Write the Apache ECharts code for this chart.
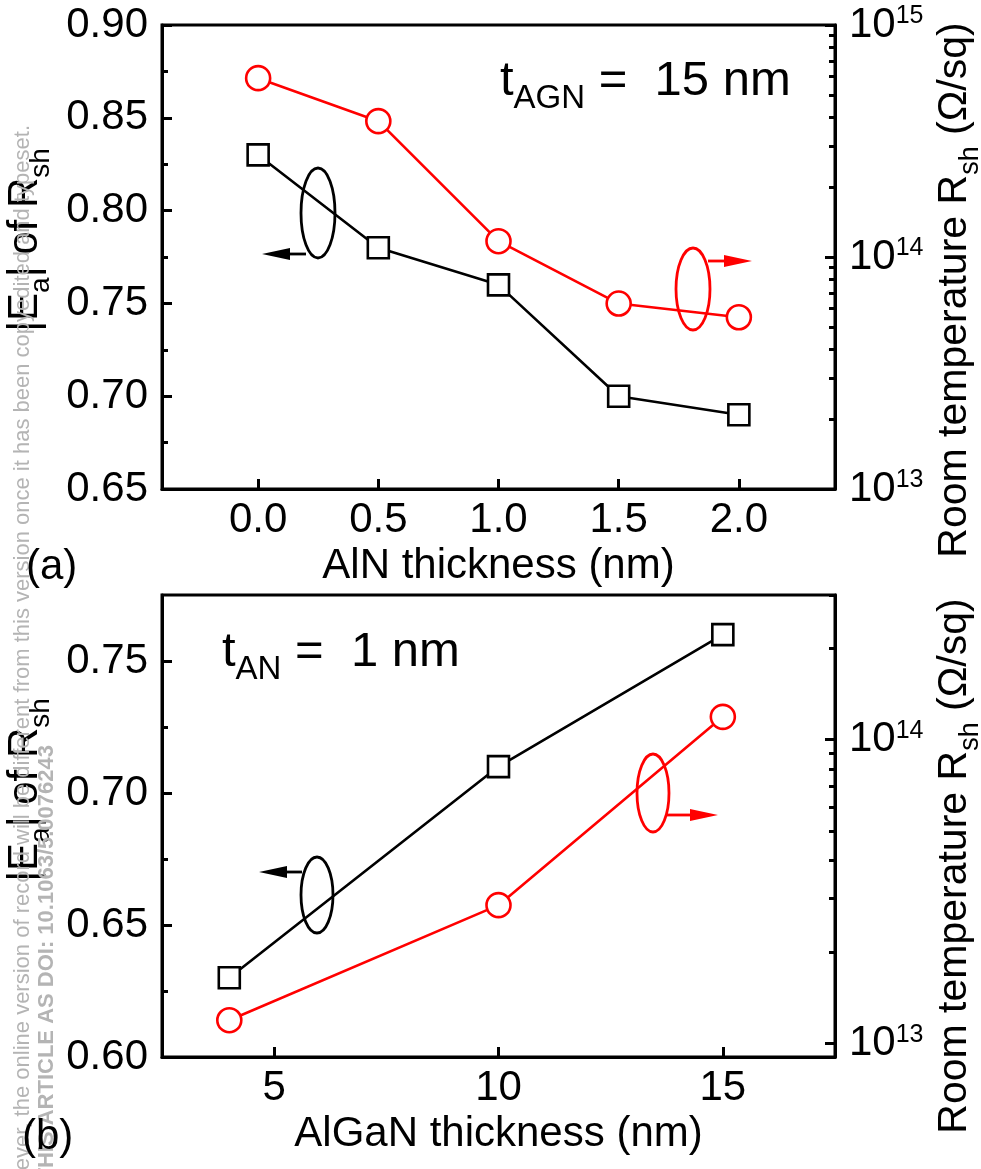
<!DOCTYPE html>
<html>
<head>
<meta charset="utf-8">
<script src="https://cdn.jsdelivr.net/npm/echarts@6/dist/echarts.min.js"></script>
<style>
  html, body { margin: 0; background: #fff; }
  #chart { width: 981px; height: 1169px; }
</style>
</head>
<body>
<div id="chart"></div>
<script>
// panel (a): t_AGN = 15 nm, AlN thickness varied
const alnThickness = [0, 0.5, 1.0, 1.5, 2.0];
const alnEa = [0.83, 0.78, 0.76, 0.70, 0.69];
const alnRsh = [5.9e14, 3.85e14, 1.17e14, 6.3e13, 5.5e13];

// panel (b): t_AN = 1 nm, AlGaN thickness varied
const alganThickness = [4, 10, 15];
const alganEa = [0.63, 0.71, 0.76];
const alganRsh = [1.19e13, 2.85e13, 1.19e14];

// tick labels
const alnTicks = [0, 0.5, 1.0, 1.5, 2.0];
const alganTicks = [5, 10, 15];
const eaTicksA = [0.65, 0.70, 0.75, 0.80, 0.85, 0.90];
const eaMinorA = [0.675, 0.725, 0.775, 0.825, 0.875];
const eaTicksB = [0.60, 0.65, 0.70, 0.75];
const eaMinorB = [0.625, 0.675, 0.725];
const rshDecadesA = [13, 14, 15];
const rshDecadesB = [13, 14];

const FONT = 'Liberation Sans';

const logMinor = (decades) => {
  const out = [];
  decades.forEach(d => {
    for (let k = 2; k <= 9; k++) out.push(d + Math.log10(k));
  });
  return out;
};

const tickStyle = (len, values) => ({
  show: true,
  inside: true,
  length: len,
  customValues: values,
  lineStyle: { color: '#000', width: 3 }
});

const lineStyle = { show: true, onZero: false, lineStyle: { color: '#000', width: 3 } };

const labelStyle = {
  fontFamily: FONT,
  fontSize: 42,
  color: '#000'
};

const nameRich = (size) => ({
  n: { fontFamily: FONT, fontSize: size, color: '#000', padding: [0, 0, 9, 0] },
  s: { fontFamily: FONT, fontSize: Math.round(size * 0.67), color: '#000', verticalAlign: 'bottom' }
});

const supRich = {
  b: { fontFamily: FONT, fontSize: 42, color: '#000' },
  s: { fontFamily: FONT, fontSize: 25, color: '#000', verticalAlign: 'top' }
};

const xAxisFor = (grid, min, max, ticks, name, digits) => ({
  type: 'value',
  gridIndex: grid,
  min: min,
  max: max,
  axisLine: lineStyle,
  axisTick: tickStyle(10, ticks),
  axisLabel: Object.assign({}, labelStyle, {
    customValues: ticks,
    margin: 10,
    formatter: v => v.toFixed(digits)
  }),
  splitLine: { show: false },
  name: name,
  nameLocation: 'middle',
  nameGap: 56,
  nameTextStyle: { fontFamily: FONT, fontSize: 42, color: '#000' }
});

const leftAxis = (grid, min, max, ticks, padLeft) => ({
  type: 'value',
  gridIndex: grid,
  position: 'left',
  min: min,
  max: max,
  axisLine: lineStyle,
  axisTick: tickStyle(10, ticks),
  axisLabel: Object.assign({}, labelStyle, {
    customValues: ticks,
    margin: 14,
    formatter: v => v.toFixed(2)
  }),
  splitLine: { show: false },
  name: '{n||E}{s|a}{n|| of R}{s|sh}',
  nameLocation: 'middle',
  nameRotate: 90,
  nameGap: 102,
  nameTextStyle: { rich: nameRich(42), padding: [0, 0, 0, padLeft] }
});

const rightAxis = (grid, min, max, decades, padRight) => ({
  type: 'value',
  gridIndex: grid,
  position: 'right',
  min: min,
  max: max,
  axisLine: lineStyle,
  axisTick: tickStyle(10, decades),
  axisLabel: {
    customValues: decades,
    margin: 14,
    formatter: v => '{b|10}{s|' + Math.round(v) + '}',
    rich: supRich
  },
  splitLine: { show: false },
  name: '{n|Room temperature R}{s|sh}{n| (Ω/sq)}',
  nameLocation: 'middle',
  nameRotate: 90,
  nameGap: 90,
  nameTextStyle: { rich: nameRich(41), padding: [0, padRight, 0, 0] }
});

// extra axis that only draws the short (minor) ticks
const minorAxis = (grid, pos, min, max, values) => ({
  type: 'value',
  gridIndex: grid,
  position: pos,
  min: min,
  max: max,
  axisLine: { show: false, onZero: false },
  axisTick: tickStyle(6, values),
  axisLabel: { show: false },
  splitLine: { show: false }
});

const blackSeries = (xi, yi, xs, ys) => ({
  type: 'line',
  xAxisIndex: xi,
  yAxisIndex: yi,
  data: xs.map((x, i) => [x, ys[i]]),
  symbol: 'rect',
  symbolSize: 21,
  lineStyle: { color: '#000', width: 2.6 },
  itemStyle: { color: '#fff', borderColor: '#000', borderWidth: 2.6 },
  z: 3
});

const redSeries = (xi, yi, xs, ys) => ({
  type: 'line',
  xAxisIndex: xi,
  yAxisIndex: yi,
  data: xs.map((x, i) => [x, Math.log10(ys[i])]),
  symbol: 'circle',
  symbolSize: 24,
  lineStyle: { color: '#ff0000', width: 2.6 },
  itemStyle: { color: '#fff', borderColor: '#ff0000', borderWidth: 2.6 },
  z: 3
});

const ellipse = (cx, cy, rx, ry, color) => ({
  type: 'ellipse',
  shape: { cx: cx, cy: cy, rx: rx, ry: ry },
  style: { fill: null, stroke: color, lineWidth: 2.8 },
  z: 10
});

const arrow = (x0, x1, tip, y, color) => ([
  { type: 'line', shape: { x1: x0, y1: y, x2: x1, y2: y }, style: { stroke: color, lineWidth: 2.8 }, z: 10 },
  { type: 'polygon', shape: { points: [[tip, y], [x1, y - 6], [x1, y + 6]] }, style: { fill: color }, z: 10 }
]);

const plainText = (x, y, text, size) => ({
  type: 'text', x: x, y: y,
  style: { text: text, fontFamily: FONT, fontSize: size, fill: '#000', verticalAlign: 'middle' },
  z: 10
});

const richText = (x, y, text) => ({
  type: 'text', x: x, y: y,
  style: {
    text: text,
    verticalAlign: 'top',
    rich: {
      n: { fontFamily: FONT, fontSize: 49, fill: '#000', padding: [0, 0, 9, 0] },
      s: { fontFamily: FONT, fontSize: 33, fill: '#000', verticalAlign: 'bottom' }
    }
  },
  z: 10
});

const watermark = (x, y, text, bold) => ({
  type: 'text', x: x, y: y, rotation: Math.PI / 2,
  style: {
    text: text, fontFamily: FONT, fontSize: 22, fontWeight: bold ? 'bold' : 'normal',
    fill: '#b4b4b4', align: 'right', verticalAlign: 'middle'
  },
  z: 1
});

const getOptions = () => {
  return {
    animation: false,
    backgroundColor: '#fff',
    grid: [
      { left: 162, top: 25, width: 673, height: 464, show: true, borderColor: '#000', borderWidth: 3, outerBoundsMode: 'none', containLabel: false },
      { left: 162, top: 595, width: 673, height: 462, show: true, borderColor: '#000', borderWidth: 3, outerBoundsMode: 'none', containLabel: false }
    ],
    xAxis: [
      xAxisFor(0, -0.4, 2.4, alnTicks, 'AlN thickness (nm)', 1),
      xAxisFor(1, 2.5, 17.5, alganTicks, 'AlGaN thickness (nm)', 0)
    ],
    yAxis: [
      leftAxis(0, 0.65, 0.90, eaTicksA, 34),
      minorAxis(0, 'left', 0.65, 0.90, eaMinorA),
      rightAxis(0, 13, 15, rshDecadesA, 66),
      minorAxis(0, 'right', 13, 15, logMinor([13, 14])),
      leftAxis(1, 0.60, 0.775, eaTicksB, 72),
      minorAxis(1, 'left', 0.60, 0.775, eaMinorB),
      rightAxis(1, Math.log10(9e12), Math.log10(3e14), rshDecadesB, 80),
      minorAxis(1, 'right', Math.log10(9e12), Math.log10(3e14), logMinor([13, 14]))
    ],
    series: [
      blackSeries(0, 0, alnThickness, alnEa),
      redSeries(0, 2, alnThickness, alnRsh),
      blackSeries(1, 4, alganThickness, alganEa),
      redSeries(1, 6, alganThickness, alganRsh)
    ],
    graphic: [
      richText(500, 57, '{n|t}{s|AGN}{n| =  15 nm}'),
      richText(222, 628, '{n|t}{s|AN}{n| =  1 nm}'),
      ellipse(318, 213, 17, 45, '#000'),
      ...arrow(306, 290, 262, 254, '#000'),
      ellipse(693, 289, 17, 41, '#ff0000'),
      ...arrow(708, 724, 752, 261, '#ff0000'),
      ellipse(317, 895, 16, 38, '#000'),
      ...arrow(302, 287, 259, 872, '#000'),
      ellipse(653, 793, 16, 39, '#ff0000'),
      ...arrow(667, 690, 718, 815, '#ff0000'),
      plainText(26, 567, '(a)', 42),
      plainText(22, 1137, '(b)', 42),
      watermark(23, 125, 'This is the author\u2019s peer reviewed, accepted manuscript. However, the online version of record will be different from this version once it has been copyedited and typeset.', false),
      watermark(47, 745, 'PLEASE CITE THIS ARTICLE AS DOI: 10.1063/5.0076243', true)
    ]
  };
};

const initChart = () => {
  const chart = echarts.init(document.getElementById('chart'), null, { renderer: 'canvas' });
  chart.setOption(getOptions());
};

window.addEventListener('load', () => {
  initChart();
});
</script>
</body>
</html>
